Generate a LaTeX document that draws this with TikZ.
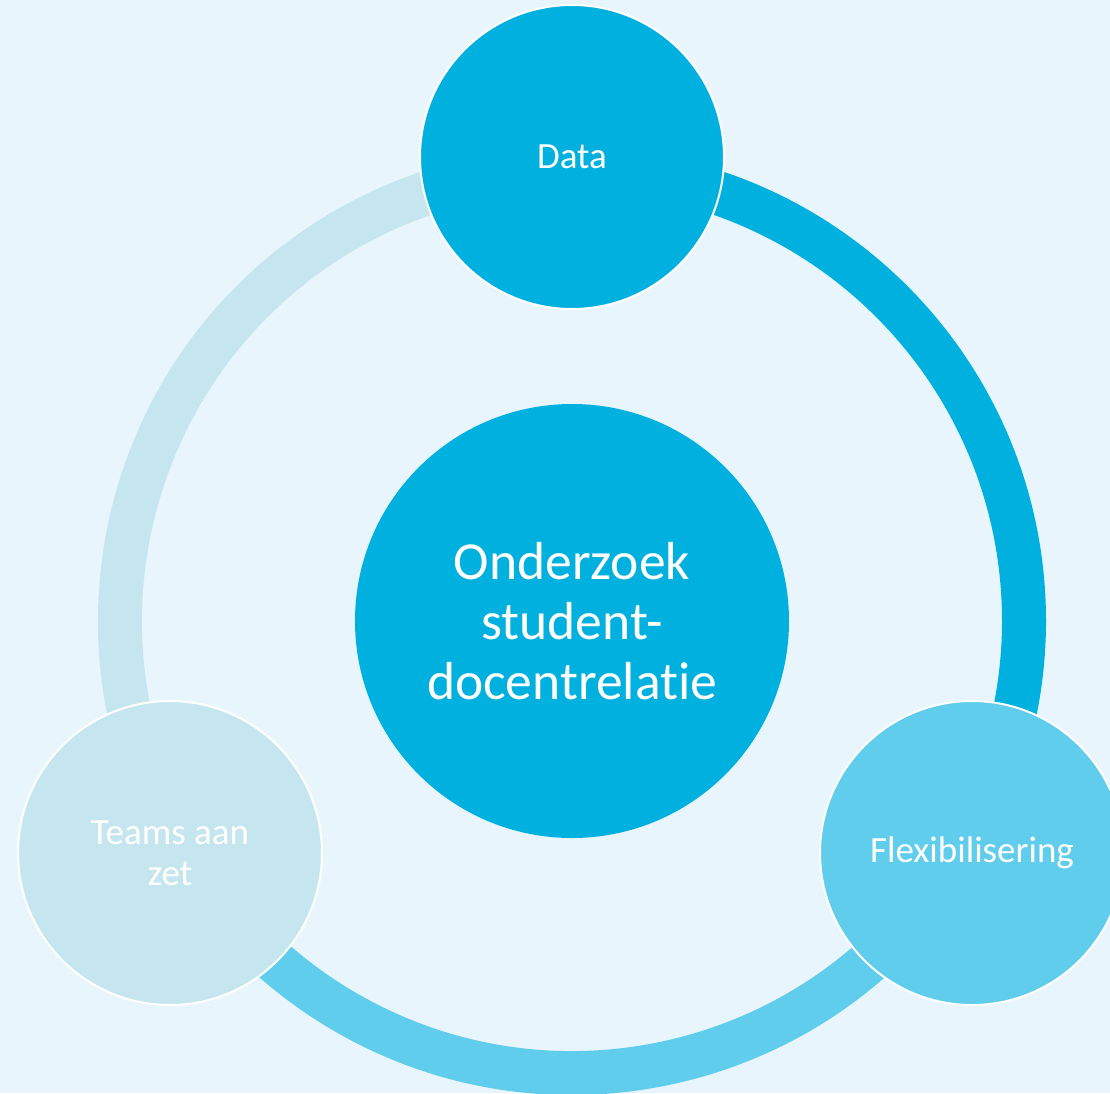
\documentclass[tikz,border=0pt]{standalone}
\usepackage{fontspec}
\setmainfont{Carlito}[Ligatures=NoCommon]
\definecolor{bgc}{RGB}{232,245,252}
\definecolor{darkc}{RGB}{0,176,222}
\definecolor{midc}{RGB}{95,205,235}
\definecolor{lightc}{RGB}{198,230,239}
\tikzset{
  ring/.style={line width=44pt},
  bubble/.style={circle, draw=white, line width=2pt, minimum size=304pt, inner sep=0pt, text=white, align=center, font=\fontsize{37}{41}\selectfont},
  hub/.style={circle, fill=darkc, minimum size=434pt, inner sep=0pt, text=white, align=center, font=\fontsize{53.5}{60}\selectfont}
}
\begin{document}
\begin{tikzpicture}[x=1pt,y=1pt]
\useasboundingbox (0,0) rectangle (1110,-1093);
\clip (0,0) rectangle (1110,-1093);
\fill[bgc] (0,0) rectangle (1110,-1093);
\coordinate (c) at (572,-621);
% ring segments
\draw[ring, darkc] ([shift={(90:452)}]c) arc[start angle=90, end angle=-30, radius=452];
\draw[ring, midc] ([shift={(-30:452)}]c) arc[start angle=-30, end angle=-150, radius=452];
\draw[ring, lightc] ([shift={(210:452)}]c) arc[start angle=210, end angle=90, radius=452];
% nodes
\node[hub] (hub) at (c) {Onderzoek\\student-\\docentrelatie};
\node[bubble, fill=darkc] (data) at (572,-157) {Data};
\node[bubble, fill=midc] (flex) at (972,-853) {Flexibilisering};
\node[bubble, fill=lightc] (teams) at (170,-853) {Teams aan\\zet};
\end{tikzpicture}
\end{document}
